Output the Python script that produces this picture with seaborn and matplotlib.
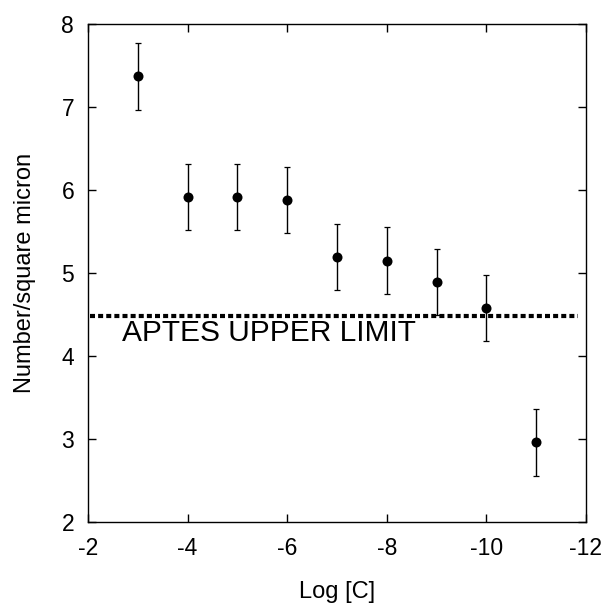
import numpy as np
import pandas as pd
import matplotlib
matplotlib.use("Agg")
import matplotlib.pyplot as plt
import seaborn as sns

# data
log_c = [-3, -4, -5, -6, -7, -8, -9, -10, -11]
density = [7.37, 5.92, 5.92, 5.88, 5.19, 5.15, 4.89, 4.58, 2.96]
err = [0.40, 0.40, 0.40, 0.40, 0.40, 0.40, 0.40, 0.40, 0.40]
aptes_limit = 4.48

df = pd.DataFrame({'logC': log_c, 'n': density, 'err': err})

sns.set_style("ticks")
plt.rcParams['font.family'] = ['Liberation Sans', 'DejaVu Sans']
plt.rcParams['axes.unicode_minus'] = False
plt.rcParams['text.color'] = 'black'
plt.rcParams['axes.labelcolor'] = 'black'
plt.rcParams['xtick.color'] = 'black'
plt.rcParams['ytick.color'] = 'black'
plt.rcParams['axes.edgecolor'] = 'black'

fig = plt.figure(figsize=(6.05, 6.08), dpi=100)
ax = fig.add_axes([0.1455, 0.1414, 0.823, 0.819])

ax.errorbar(df['logC'], df['n'], yerr=df['err'], fmt='none', ecolor='black',
            elinewidth=1.0, capsize=2.5, capthick=0.9, zorder=2)
sns.scatterplot(data=df, x='logC', y='n', ax=ax, color='black', s=52,
                edgecolor='black', linewidth=0, zorder=3, legend=False)

ax.plot([-2.04, -11.84], [aptes_limit, aptes_limit], color='black', lw=3,
        linestyle=(0, (1.2, 0.75)), zorder=1)
ax.text(-2.68, aptes_limit - 0.03, "APTES UPPER LIMIT", fontsize=21.5,
        ha='left', va='top')

ax.set_xlim(-2, -12)
ax.set_ylim(2, 8)
ax.set_xticks([-2, -4, -6, -8, -10, -12])
ax.set_yticks([2, 3, 4, 5, 6, 7, 8])
ax.tick_params(direction='in', top=True, right=True, length=6, width=1,
               labelsize=16.5)
ax.tick_params(axis='x', pad=11)
ax.tick_params(axis='y', pad=10)
for s in ax.spines.values():
    s.set_linewidth(1.0)

ax.set_xlabel("Log [C]", fontsize=17, labelpad=15)
ax.set_ylabel("Number/square micron", fontsize=17, labelpad=18)

fig.savefig("out.png", dpi=100)
